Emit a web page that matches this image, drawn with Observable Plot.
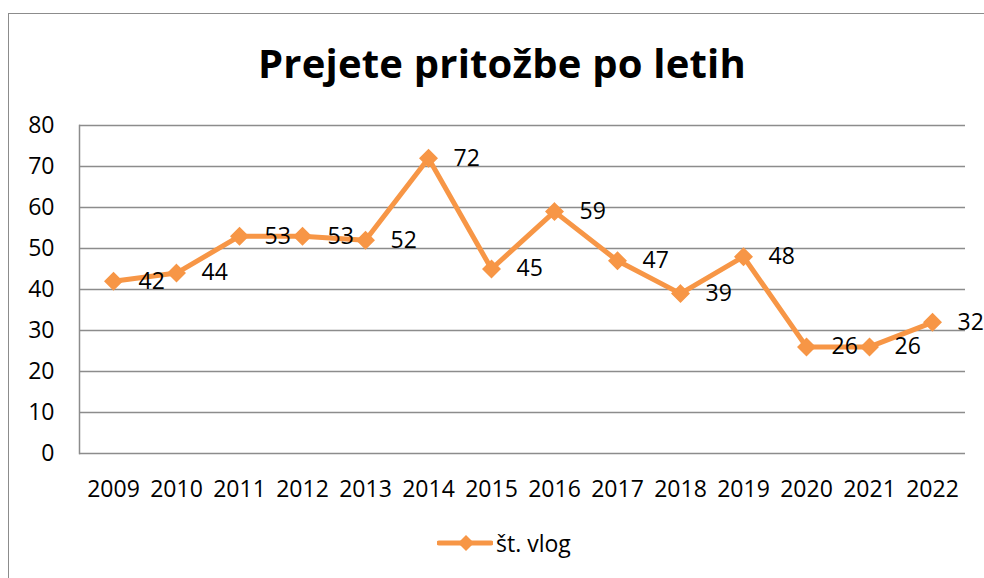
<!DOCTYPE html>
<html>
<head>
<meta charset="utf-8">
<script src="https://cdn.jsdelivr.net/npm/d3@7"></script>
<script src="https://cdn.jsdelivr.net/npm/@observablehq/plot@0.6"></script>
<style>
  html, body { margin: 0; padding: 0; background: #fff; }
  #wrap { position: relative; width: 984px; height: 578px; overflow: hidden; background: #fff; font-family: "Open Sans", sans-serif; }
  #frame { position: absolute; left: 8px; top: 13px; width: 1000px; height: 620px; border: 1.5px solid #8c8c8c; box-sizing: border-box; }
  #title { position: absolute; left: 0; top: 43px; width: 1004px; text-align: center; font-weight: 700; font-size: 40px; line-height: 40px; color: #000; letter-spacing: 0.2px; }
  #chart { position: absolute; left: 0; top: 100px; }
  #legend { position: absolute; left: 437px; top: 528px; height: 30px; display: flex; align-items: center; font-size: 23px; color: #000; }
  #legend span { margin-left: 3px; }
</style>
</head>
<body>
<div id="wrap">
  <div id="frame"></div>
  <div id="title"></div>
  <div id="chart"></div>
  <div id="legend"></div>
</div>
<script>
const titleText = "Prejete pritožbe po letih";
const seriesName = "št. vlog";
const years = ["2009","2010","2011","2012","2013","2014","2015","2016","2017","2018","2019","2020","2021","2022"];
const values = [42, 44, 53, 53, 52, 72, 45, 59, 47, 39, 48, 26, 26, 32];
const yTicks = [0, 10, 20, 30, 40, 50, 60, 70, 80];

const orange = "#F79646";
const gridColor = "#8c8c8c";

const data = years.map((y, i) => ({year: y, value: values[i]}));

document.getElementById("title").textContent = titleText;

const chart = Plot.plot({
  width: 984,
  height: 420,
  marginLeft: 79,
  marginRight: 19,
  marginTop: 25,
  marginBottom: 67,
  style: {fontFamily: "Open Sans, sans-serif", fontSize: "23px", color: "#000", background: "transparent"},
  x: {type: "point", domain: years, padding: 0.5, label: null},
  y: {domain: [0, 80], ticks: yTicks, label: null},
  marks: [
    Plot.gridY(yTicks, {stroke: gridColor, strokeOpacity: 1, strokeWidth: 1.5}),
    Plot.frame({anchor: "left", stroke: gridColor, strokeWidth: 1.5}),
    Plot.axisY({ticks: yTicks, tickSize: 0, tickPadding: 25, label: null, fontSize: 23}),
    Plot.axisX({tickSize: 0, tickPadding: 27, label: null, fontSize: 23}),
    Plot.line(data, {x: "year", y: "value", stroke: orange, strokeWidth: 5, strokeLinejoin: "miter"}),
    Plot.dot(data, {x: "year", y: "value", symbol: "diamond2", r: 7.6, fill: orange, stroke: orange}),
    Plot.text(data, {x: "year", y: "value", text: d => String(d.value), dx: 25, textAnchor: "start", fontSize: 23, fill: "#000"})
  ]
});
document.getElementById("chart").appendChild(chart);

// legend
const legend = document.getElementById("legend");
const ns = "http://www.w3.org/2000/svg";
const sw = document.createElementNS(ns, "svg");
sw.setAttribute("width", 56);
sw.setAttribute("height", 30);
const ln = document.createElementNS(ns, "line");
ln.setAttribute("x1", 2); ln.setAttribute("x2", 54); ln.setAttribute("y1", 15); ln.setAttribute("y2", 15);
ln.setAttribute("stroke", orange); ln.setAttribute("stroke-width", 5); ln.setAttribute("stroke-linecap", "round");
sw.appendChild(ln);
const dm = document.createElementNS(ns, "path");
dm.setAttribute("d", "M29,7L37,15L29,23L21,15Z");
dm.setAttribute("fill", orange);
sw.appendChild(dm);
legend.appendChild(sw);
const lt = document.createElement("span");
lt.textContent = seriesName;
legend.appendChild(lt);
</script>
</body>
</html>
